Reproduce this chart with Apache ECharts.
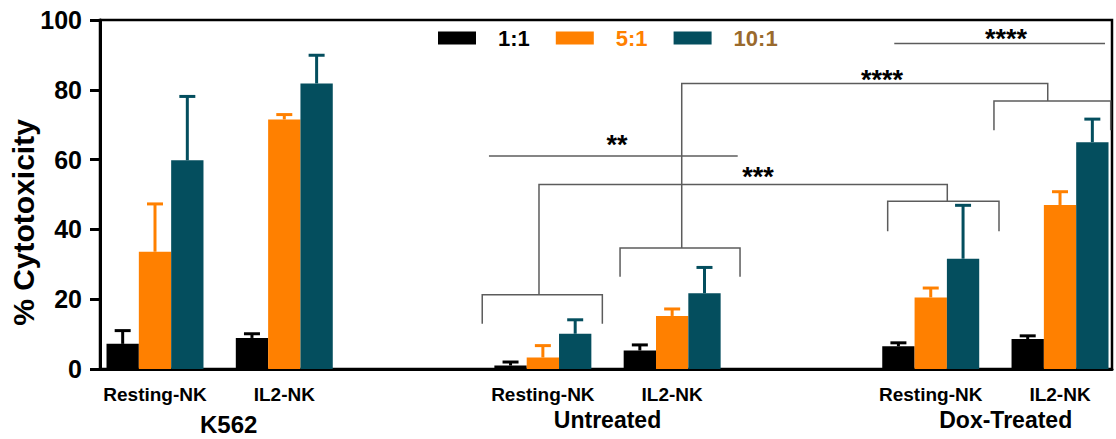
<!DOCTYPE html>
<html>
<head>
<meta charset="utf-8">
<title>% Cytotoxicity</title>
<script src="https://cdn.jsdelivr.net/npm/echarts@6/dist/echarts.min.js"></script>
<style>
  html, body { margin: 0; padding: 0; background: #ffffff; }
  #chart { width: 1116px; height: 439px; }
</style>
</head>
<body>
<div id="chart"></div>
<script>
// ---- data -------------------------------------------------------------
// slot positions of the six effector groups along the x axis (gaps separate targets)
const groupX = [0, 1, 3, 4, 6, 7];
const effectorLabels = ['Resting-NK', 'IL2-NK', 'Resting-NK', 'IL2-NK', 'Resting-NK', 'IL2-NK'];
const targetLabels = ['K562', 'Untreated', 'Dox-Treated'];
const ratioNames = ['1:1', '5:1', '10:1'];

// mean % cytotoxicity and upper error per E:T ratio
const cyto1 = [7.2, 8.9, 1.0, 5.3, 6.5, 8.6];
const err1 = [3.8, 1.2, 1.0, 1.6, 1.0, 0.9];
const cyto5 = [33.6, 71.5, 3.3, 15.2, 20.5, 47.0];
const err5 = [13.7, 1.4, 3.4, 2.0, 2.7, 3.8];
const cyto10 = [59.8, 81.8, 10.1, 21.7, 31.6, 65.0];
const err10 = [18.3, 8.1, 4.0, 7.4, 15.3, 6.6];

const yTicks = [0, 20, 40, 60, 80, 100];

// significance brackets, as polylines in data units [slot, % cytotoxicity]
const sigLines = [
  [[2.531, 13.0], [2.531, 21.3], [3.460, 21.3], [3.460, 13.0]],
  [[3.597, 26.4], [3.597, 34.7], [4.525, 34.7], [4.525, 26.4]],
  [[5.667, 39.5], [5.667, 48.1], [6.528, 48.1], [6.528, 39.5]],
  [[6.489, 68.4], [6.489, 76.8], [7.392, 76.8], [7.392, 68.4]],
  [[2.970, 21.3], [2.970, 52.9], [6.128, 52.9], [6.128, 48.1]],
  [[4.074, 34.7], [4.074, 81.8], [6.905, 81.8], [6.905, 76.8]],
  [[2.583, 61.0], [4.507, 61.0]],
  [[5.718, 93.3], [7.348, 93.3]]
];
const sigMarks = ['**', '***', '****', '****'];
const sigMarkX = [3.573, 4.664, 5.623, 6.582];
const sigMarkY = [66.0, 56.7, 84.6, 96.2];

// ---- layout & style ---------------------------------------------------
const FONT = "'Liberation Sans', Arial, Helvetica, sans-serif";
const ratioColors = ['#000000', '#ff8000', '#044e5e'];
const legendTextColors = ['#000000', '#ff8000', '#9a6a2c'];
const X_MIN = -0.4254, X_MAX = 7.402;
const BAR_W = 0.25;
const BAR_OFFSETS = [-0.25, 0, 0.25];
const targetLabelX = [0.57, 3.5, 6.58];

const values = [cyto1, cyto5, cyto10];
const errors = [err1, err5, err10];

function nearestIndex(list, v) {
  let best = 0;
  for (let i = 1; i < list.length; i++) {
    if (Math.abs(list[i] - v) < Math.abs(list[best] - v)) best = i;
  }
  return best;
}

function barSeries(k) {
  return {
    type: 'custom',
    name: ratioNames[k],
    xAxisIndex: 0,
    yAxisIndex: 0,
    z: 3,
    itemStyle: { color: ratioColors[k] },
    data: groupX.map((x, i) => [x, values[k][i], errors[k][i]]),
    renderItem: function (params, api) {
      const x = api.value(0) + BAR_OFFSETS[k];
      const v = api.value(1);
      const e = api.value(2);
      const tl = api.coord([x - BAR_W / 2, v]);
      const br = api.coord([x + BAR_W / 2, 0]);
      const tip = api.coord([x, v + e]);
      const color = ratioColors[k];
      return {
        type: 'group',
        children: [
          { type: 'rect', shape: { x: tl[0], y: tl[1], width: br[0] - tl[0], height: br[1] - tl[1] },
            style: { fill: color } },
          { type: 'line', shape: { x1: tip[0], y1: tl[1], x2: tip[0], y2: tip[1] },
            style: { stroke: color, lineWidth: 3 } },
          { type: 'line', shape: { x1: tip[0] - 8, y1: tip[1], x2: tip[0] + 8, y2: tip[1] },
            style: { stroke: color, lineWidth: 3 } }
        ]
      };
    }
  };
}

const chart = echarts.init(document.getElementById('chart'), null, { renderer: 'svg' });

chart.setOption({
  animation: false,
  backgroundColor: '#ffffff',
  textStyle: { fontFamily: FONT },
  grid: {
    left: 100, right: 4, top: 20, bottom: 70,
    containLabel: false, outerBoundsMode: 'none',
    show: true, borderColor: '#000000', borderWidth: 2.5, backgroundColor: 'transparent'
  },
  legend: {
    top: 27, left: 438, padding: 0,
    icon: 'rect', itemWidth: 38, itemHeight: 13, itemGap: 26,
    selectedMode: false,
    textStyle: { fontFamily: FONT, fontSize: 22, fontWeight: 'bold', padding: [0, 0, 0, 17] },
    data: ratioNames.map((n, i) => ({ name: n, textStyle: { color: legendTextColors[i] } }))
  },
  xAxis: [
    {
      type: 'value', min: X_MIN, max: X_MAX, position: 'bottom',
      axisLine: { show: true, onZero: false, lineStyle: { color: '#000000', width: 3 } },
      axisTick: { show: false },
      splitLine: { show: false },
      axisLabel: {
        customValues: groupX,
        margin: 16,
        color: '#000000', fontFamily: FONT, fontSize: 19, fontWeight: 'bold',
        formatter: v => effectorLabels[nearestIndex(groupX, v)]
      }
    },
    {
      type: 'value', min: X_MIN, max: X_MAX, position: 'bottom',
      axisLine: { show: false, onZero: false },
      axisTick: { show: false },
      splitLine: { show: false },
      axisLabel: {
        customValues: targetLabelX,
        margin: 39,
        color: '#000000', fontFamily: FONT, fontSize: 23, fontWeight: 'bold',
        formatter: v => {
          const i = nearestIndex(targetLabelX, v);
          return i === 0 ? '{k|' + targetLabels[i] + '}' : targetLabels[i];
        },
        rich: {
          k: { fontFamily: FONT, fontSize: 24, fontWeight: 'bold', color: '#000000', padding: [4, 0, 0, 0] }
        }
      }
    }
  ],
  yAxis: {
    type: 'value', min: yTicks[0], max: yTicks[yTicks.length - 1], interval: 20,
    name: '% Cytotoxicity',
    nameLocation: 'middle', nameGap: 62, nameMoveOverlap: false,
    nameTextStyle: { fontFamily: FONT, fontSize: 30, fontWeight: 'bold', color: '#000000', padding: [0, 56, 0, 0] },
    axisLine: { show: true, onZero: false, lineStyle: { color: '#000000', width: 3 } },
    axisTick: { show: true, length: 10, lineStyle: { color: '#000000', width: 3 } },
    splitLine: { show: false },
    axisLabel: { margin: 18, color: '#000000', fontFamily: FONT, fontSize: 25, fontWeight: 'bold' }
  },
  series: [
    {
      type: 'custom',
      name: 'brackets',
      silent: true,
      z: 2,
      data: sigLines.map((_, i) => [i]),
      renderItem: function (params, api) {
        const pts = sigLines[params.dataIndex].map(p => api.coord(p));
        return { type: 'polyline', shape: { points: pts },
                 style: { stroke: '#5c5c5c', lineWidth: 1.5, fill: null } };
      }
    },
    {
      type: 'custom',
      name: 'significance',
      silent: true,
      z: 4,
      data: sigMarks.map((_, i) => [sigMarkX[i], sigMarkY[i]]),
      renderItem: function (params, api) {
        const p = api.coord([api.value(0), api.value(1)]);
        return {
          type: 'text', x: p[0], y: p[1] + 6,
          style: { text: sigMarks[params.dataIndex], fill: '#000000', align: 'center', verticalAlign: 'middle',
                   fontFamily: FONT, fontSize: 27, fontWeight: 'bold' }
        };
      }
    },
    barSeries(0),
    barSeries(1),
    barSeries(2)
  ]
});
</script>
</body>
</html>
